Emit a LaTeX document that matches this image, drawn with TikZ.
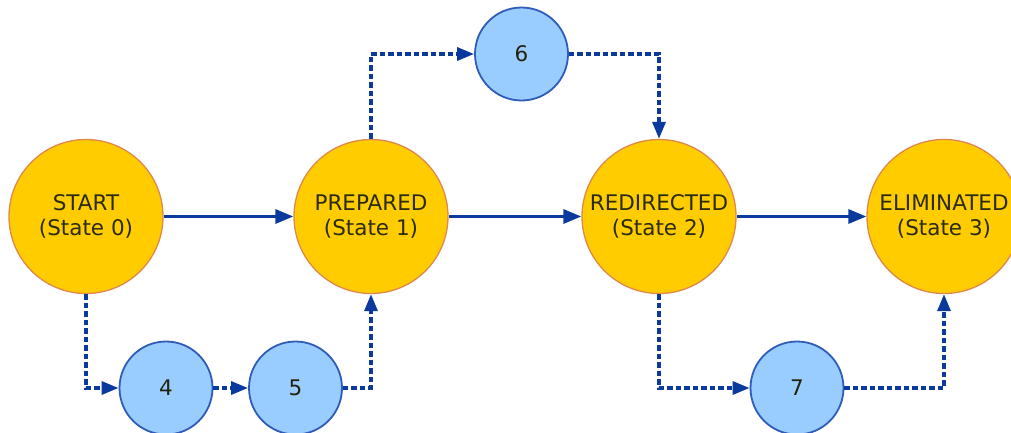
\documentclass[tikz,border=0pt]{standalone}
\usepackage{fontspec}
\setmainfont{DejaVu Sans}
\usetikzlibrary{arrows.meta}
\definecolor{stfill}{HTML}{FFCC00}
\definecolor{stdraw}{HTML}{E0884A}
\definecolor{bfill}{HTML}{99CCFF}
\definecolor{bdraw}{HTML}{2E5CB8}
\definecolor{arr}{HTML}{0A3A9E}
\definecolor{txt}{HTML}{2B2B10}
\tikzset{
  statenode/.style={circle, fill=stfill, draw=stdraw, line width=1.3pt, minimum size=154pt, inner sep=0pt, align=center, text=txt, font=\fontsize{21.5}{25}\selectfont},
  subnode/.style={circle, fill=bfill, draw=bdraw, line width=1.8pt, minimum size=93pt, inner sep=0pt, text=txt!80!black, font=\fontsize{21.5}{25}\selectfont},
  solidarrow/.style={draw=arr, line width=3.2pt, -{Triangle[length=18pt,width=14pt]}},
  dasharrow/.style={draw=arr, line width=3.2pt, dash pattern=on 5.5pt off 3pt, -{Triangle[length=17pt,width=13pt]}}
}
\begin{document}
\begin{tikzpicture}[x=1pt,y=-1pt]
\useasboundingbox (0,0) rectangle (1011,432);
\clip (0,0) rectangle (1011,432);
\node[statenode] (s0) at (86,216.5) {START\\(State 0)};
\node[statenode] (s1) at (371,216.5) {PREPARED\\(State 1)};
\node[statenode] (s2) at (659,216.5) {REDIRECTED\\(State 2)};
\node[statenode] (s3) at (944,216.5) {ELIMINATED\\(State 3)};
\node[subnode] (n4) at (166,388) {4};
\node[subnode] (n5) at (295.5,388) {5};
\node[subnode] (n6) at (521.5,54) {6};
\node[subnode] (n7) at (797,388) {7};
\draw[solidarrow] (s0) -- (s1);
\draw[solidarrow] (s1) -- (s2);
\draw[solidarrow] (s2) -- (s3);
\draw[dasharrow] (s0.south) |- (n4.west);
\draw[dasharrow] (n4) -- (n5);
\draw[dasharrow] (n5.east) -| (s1.south);
\draw[dasharrow] (s1.north) |- (n6.west);
\draw[dasharrow] (n6.east) -| (s2.north);
\draw[dasharrow] (s2.south) |- (n7.west);
\draw[dasharrow] (n7.east) -| (s3.south);
\end{tikzpicture}
\end{document}
